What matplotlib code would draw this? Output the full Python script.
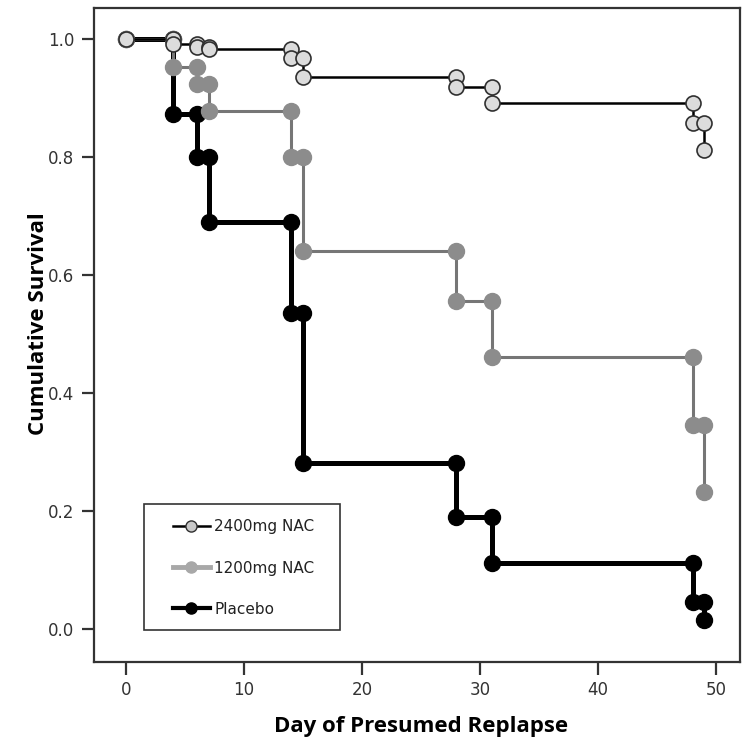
import matplotlib
matplotlib.use("Agg")
import matplotlib.pyplot as plt
from matplotlib.lines import Line2D
from matplotlib.patches import Rectangle

# event days (day 0 = start) and survival after each day
days = [0, 4, 6, 7, 14, 15, 28, 31, 48, 49]
surv_2400 = [1.0, 0.993, 0.988, 0.983, 0.969, 0.937, 0.919, 0.893, 0.858, 0.812]
surv_1200 = [1.0, 0.954, 0.925, 0.878, 0.800, 0.641, 0.557, 0.461, 0.346, 0.232]
surv_placebo = [1.0, 0.873, 0.800, 0.690, 0.536, 0.281, 0.190, 0.112, 0.046, 0.015]

labels = ["2400mg NAC", "1200mg NAC", "Placebo"]
xticks = [0, 10, 20, 30, 40, 50]
yticks = [0.0, 0.2, 0.4, 0.6, 0.8, 1.0]


def steps(t, s):
    xs, ys = [t[0]], [s[0]]
    for i in range(1, len(t)):
        xs += [t[i], t[i]]
        ys += [s[i - 1], s[i]]
    return xs, ys


fig = plt.figure(figsize=(7.42, 7.46), dpi=100)
ax = fig.add_axes([0.1267, 0.1126, 0.8703, 0.8764])

# placebo (bottom)
x, y = steps(days, surv_placebo)
ax.plot(x, y, color="black", linewidth=3.6, zorder=2)
ax.plot(x, y, linestyle="none", marker="o", markersize=11.5,
        color="black", zorder=3)

# 1200 mg
x, y = steps(days, surv_1200)
ax.plot(x, y, color="#767676", linewidth=2.2, zorder=4)
ax.plot(x, y, linestyle="none", marker="o", markersize=11.5,
        color="#8c8c8c", zorder=5)

# 2400 mg (top)
x, y = steps(days, surv_2400)
ax.plot(x, y, color="black", linewidth=1.8, zorder=6)
ax.plot(x, y, linestyle="none", marker="o", markersize=10.8,
        markerfacecolor="#dcdcdc", markeredgecolor="#303030",
        markeredgewidth=1.2, zorder=7)

ax.set_xlim(-2.7, 52.0)
ax.set_ylim(-0.056, 1.053)
ax.set_xticks(xticks)
ax.set_yticks(yticks)
ax.set_xticklabels([str(v) for v in xticks])
ax.set_yticklabels([f"{v:.1f}" for v in yticks])
ax.tick_params(direction="out", length=9, width=1.6, color="#333333",
               labelsize=12, labelcolor="#333333", pad=5)
for sp in ax.spines.values():
    sp.set_linewidth(1.6)
    sp.set_color("#333333")

ax.set_xlabel("Day of Presumed Replapse", fontfamily="Open Sans",
              fontweight="bold", fontsize=16)
ax.set_ylabel("Cumulative Survival", fontfamily="Open Sans",
              fontweight="bold", fontsize=16)
ax.xaxis.set_label_coords(0.507, -0.0826)
ax.yaxis.set_label_coords(-0.0697, 0.517)

# legend: frame drawn separately so the entries can sit inside it freely
ax.add_patch(Rectangle((0.077, 0.049), 0.304, 0.1926, transform=ax.transAxes,
                       facecolor="white", edgecolor="#333333", linewidth=1.2,
                       zorder=8))
handles = [
    Line2D([], [], color="black", linewidth=1.8, marker="o", markersize=8,
           markerfacecolor="#c8c8c8", markeredgecolor="#303030"),
    Line2D([], [], color="#a8a8a8", linewidth=3.5, marker="o", markersize=8),
    Line2D([], [], color="black", linewidth=3.0, marker="o", markersize=8),
]
leg = ax.legend(handles, labels, loc="center left",
                bbox_to_anchor=(0.1223, 0.1437), frameon=False,
                fontsize=11, handlelength=2.4, handletextpad=0.3,
                labelspacing=1.71, borderpad=0, borderaxespad=0)
leg.set_zorder(9)
for t in leg.get_texts():
    t.set_color("#222222")

fig.savefig("out.png", dpi=100)
